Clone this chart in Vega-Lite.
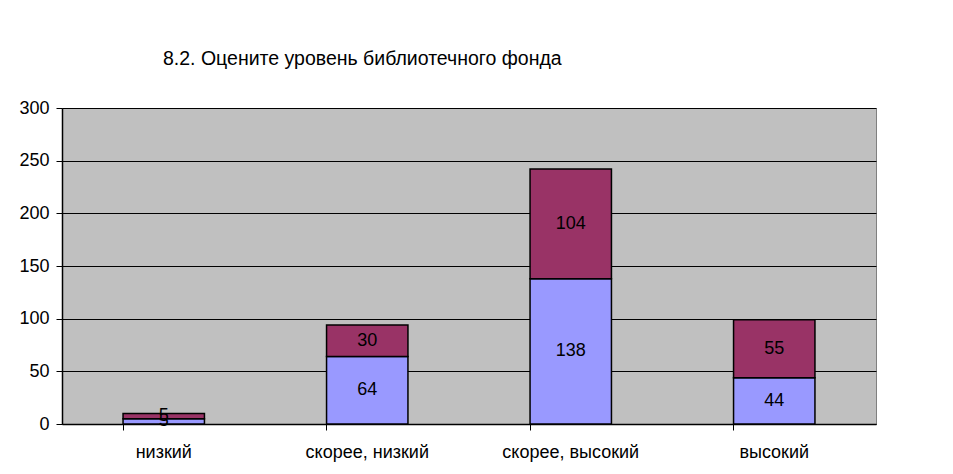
{
  "$schema": "https://vega.github.io/schema/vega-lite/v6.json",
  "width": 814,
  "height": 316,
  "autosize": "none",
  "padding": {"left": 62, "top": 108, "right": 77, "bottom": 50},
  "background": "white",
  "title": {
    "text": "8.2. Оцените уровень библиотечного фонда",
    "anchor": "start",
    "frame": "group",
    "dx": 101,
    "offset": 15,
    "baseline": "alphabetic",
    "font": "Liberation Sans",
    "fontSize": 19.5,
    "fontWeight": "normal",
    "color": "black"
  },
  "data": {
    "values": [
      {"cat": "низкий", "series": "1", "order": 1, "value": 5},
      {"cat": "низкий", "series": "2", "order": 2, "value": 5},
      {"cat": "скорее, низкий", "series": "1", "order": 1, "value": 64},
      {"cat": "скорее, низкий", "series": "2", "order": 2, "value": 30},
      {"cat": "скорее, высокий", "series": "1", "order": 1, "value": 138},
      {"cat": "скорее, высокий", "series": "2", "order": 2, "value": 104},
      {"cat": "высокий", "series": "1", "order": 1, "value": 44},
      {"cat": "высокий", "series": "2", "order": 2, "value": 55}
    ]
  },
  "transform": [
    {"stack": "value", "groupby": ["cat"], "sort": [{"field": "order"}], "as": ["v0", "v1"]},
    {"calculate": "(datum.v0 + datum.v1) / 2", "as": "mid"}
  ],
  "encoding": {
    "x": {
      "field": "cat",
      "type": "nominal",
      "sort": ["низкий", "скорее, низкий", "скорее, высокий", "высокий"],
      "scale": {"paddingInner": 0.6, "paddingOuter": 0.3},
      "axis": {
        "title": null,
        "labelAngle": 0,
        "labelFont": "Liberation Sans",
        "labelFontSize": 18,
        "labelColor": "black",
        "labelPadding": 13,
        "domainColor": "black",
        "domainWidth": 1.5,
        "tickColor": "black",
        "tickSize": 6,
        "bandPosition": 0,
        "ticks": true
      }
    }
  },
  "layer": [
    {
      "mark": {"type": "bar", "stroke": "black", "strokeWidth": 1.5},
      "encoding": {
        "y": {
          "field": "v0",
          "type": "quantitative",
          "scale": {"domain": [0, 300], "nice": false},
          "axis": {
            "title": null,
            "values": [0, 50, 100, 150, 200, 250, 300],
            "labelFont": "Liberation Sans",
            "labelFontSize": 18,
            "labelColor": "black",
            "labelPadding": 7,
            "grid": true,
            "gridColor": "black",
            "gridWidth": 1,
            "domainColor": "black",
            "domainWidth": 1.5,
            "tickColor": "black",
            "tickSize": 6
          }
        },
        "y2": {"field": "v1"},
        "fill": {
          "field": "series",
          "type": "nominal",
          "scale": {"domain": ["1", "2"], "range": ["#9999FF", "#993366"]},
          "legend": null
        }
      }
    },
    {
      "mark": {"type": "text", "font": "Liberation Sans", "fontSize": 18, "color": "black", "baseline": "middle"},
      "encoding": {
        "y": {"field": "mid", "type": "quantitative"},
        "text": {"field": "value", "type": "quantitative"}
      }
    }
  ],
  "config": {
    "view": {"fill": "#C0C0C0", "stroke": "#808080", "strokeWidth": 1}
  }
}
